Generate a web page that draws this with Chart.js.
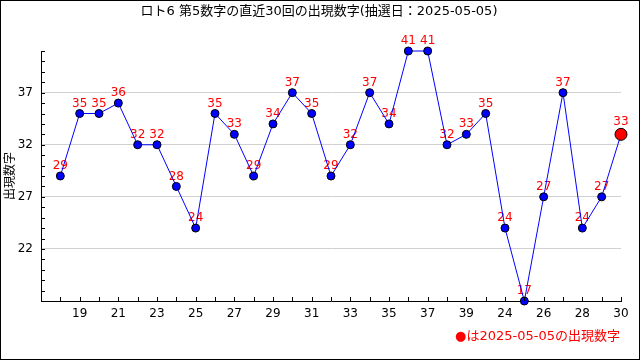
<!DOCTYPE html>
<html>
<head>
<meta charset="utf-8">
<script src="https://cdn.jsdelivr.net/npm/chart.js@4"></script>
<style>
  html, body { margin: 0; padding: 0; background: #fff; }
  #wrap { position: relative; width: 640px; height: 360px; box-sizing: border-box; border: 1px solid #000; }
  canvas { display: block; }
</style>
</head>
<body>
<div id="wrap"><canvas id="lotoChart" width="638" height="358"></canvas></div>
<script>
// x labels (draw numbers shown under the axis)
const xLabels = ["18", "19", "20", "21", "22", "23", "24", "25", "26", "27", "28", "29", "30", "31", "32",
                 "33", "34", "35", "36", "37", "38", "39", "23", "24", "25", "26", "27", "28", "29", "30"];
// 5th number of the last 30 draws
const values = [29, 35, 35, 36, 32, 32, 28, 24, 35, 33, 29, 34, 37, 35, 29,
                32, 37, 34, 41, 41, 32, 33, 35, 24, 17, 27, 37, 24, 27, 33];
const yMin = 17;
const yMax = 41;
const yLabelStep = 5;

const titleText = "ロト6 第5数字の直近30回の出現数字(抽選日：2025-05-05)";
const yTitle = "出現数字";
const noteText = "●は2025-05-05の出現数字";

const FONT = '"DejaVu Sans", "Noto Sans CJK JP", sans-serif';

const points = values.map((v, i) => ({ x: i, y: v }));
const lastIdx = values.length - 1;

///////////////////////////
// PLUGINS
///////////////////////////

// short inward tick marks on both axes
const innerTicks = {
    id: "innerTicks",
    afterDatasetsDraw(chart) {
        const ctx = chart.ctx;
        const xs = chart.scales.x;
        const ys = chart.scales.y;
        const area = chart.chartArea;
        ctx.save();
        ctx.strokeStyle = "#000";
        ctx.lineWidth = 1;
        ctx.beginPath();
        for (let v = xs.min; v <= xs.max; v++) {
            const px = Math.round(xs.getPixelForValue(v)) + 0.5;
            ctx.moveTo(px, area.bottom);
            ctx.lineTo(px, area.bottom - 4);
        }
        for (let v = ys.min; v <= ys.max; v++) {
            const py = Math.round(ys.getPixelForValue(v)) + 0.5;
            ctx.moveTo(area.left, py);
            ctx.lineTo(area.left + 4, py);
        }
        ctx.stroke();
        ctx.restore();
    }
};

// red value labels above points (drawn under the line, like the original)
const valueLabels = {
    id: "valueLabels",
    beforeDatasetsDraw(chart) {
        const ctx = chart.ctx;
        const meta = chart.getDatasetMeta(0);
        ctx.save();
        ctx.fillStyle = "#ff0000";
        ctx.font = "12px " + FONT;
        ctx.textAlign = "center";
        ctx.textBaseline = "bottom";
        meta.data.forEach((pt, i) => {
            const off = i === lastIdx ? 6 : 4;
            ctx.fillText(String(values[i]), pt.x, pt.y - off);
        });
        ctx.restore();
    }
};

// title and note text
const texts = {
    id: "texts",
    afterDraw(chart) {
        const ctx = chart.ctx;
        ctx.save();
        ctx.fillStyle = "#000";
        ctx.font = "13px " + FONT;
        ctx.textAlign = "center";
        ctx.textBaseline = "middle";
        ctx.fillText(titleText, 318, 11);

        ctx.fillStyle = "#ff0000";
        ctx.font = "13px " + FONT;
        ctx.textAlign = "right";
        ctx.fillText(noteText, 619, 336);
        ctx.restore();
    }
};

///////////////////////////
// CHART
///////////////////////////

const ctx = document.getElementById("lotoChart").getContext("2d");

new Chart(ctx, {
    type: "line",
    data: {
        datasets: [{
            data: points,
            borderColor: "#0000ff",
            borderWidth: 1,
            clip: false,
            pointRadius: values.map((v, i) => i === lastIdx ? 6 : 4),
            pointBackgroundColor: values.map((v, i) => i === lastIdx ? "#ff0000" : "#0000ff"),
            pointBorderColor: "#000",
            pointBorderWidth: 1,
            tension: 0
        }]
    },
    options: {
        responsive: false,
        animation: false,
        layout: { padding: { top: 50, right: 18, bottom: 0, left: 0 } },
        plugins: {
            legend: { display: false },
            tooltip: { enabled: false }
        },
        scales: {
            x: {
                type: "linear",
                min: -1,
                max: lastIdx,
                afterFit: s => { s.height = 58; },
                ticks: {
                    stepSize: 1,
                    autoSkip: false,
                    maxRotation: 0,
                    padding: 6,
                    color: "#000",
                    font: { size: 12, family: FONT },
                    callback: v => (v >= 0 && v % 2 === 1) ? xLabels[v] : ""
                },
                grid: { display: false, drawTicks: false },
                border: { display: true, color: "#000", width: 1 }
            },
            y: {
                min: yMin,
                max: yMax,
                afterFit: s => { s.width = 40; },
                ticks: {
                    stepSize: 1,
                    autoSkip: false,
                    padding: 8,
                    color: "#000",
                    font: { size: 12, family: FONT },
                    callback: v => (v > yMin && (v - yMin) % yLabelStep === 0) ? String(v) : ""
                },
                grid: {
                    drawTicks: false,
                    color: c => (c.tick && c.tick.value > yMin && (c.tick.value - yMin) % yLabelStep === 0) ? "#d0d0d0" : "rgba(0,0,0,0)"
                },
                border: { display: true, color: "#000", width: 1 },
                title: {
                    display: true,
                    text: yTitle,
                    color: "#000",
                    padding: { top: 3, bottom: 0 },
                    font: { size: 12, family: FONT }
                }
            }
        }
    },
    plugins: [valueLabels, innerTicks, texts]
});
</script>
</body>
</html>
